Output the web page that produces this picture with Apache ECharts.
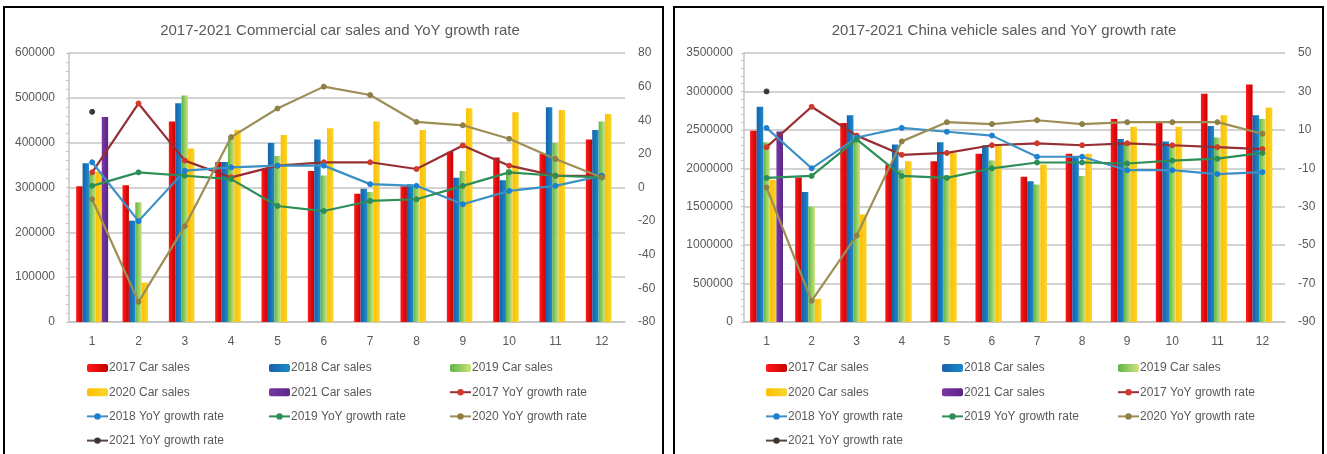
<!DOCTYPE html>
<html><head><meta charset="utf-8">
<script src="https://cdn.jsdelivr.net/npm/echarts@6/dist/echarts.min.js"></script>
<style>html,body{margin:0;padding:0;background:#fff}#c{width:1327px;height:454px}</style>
</head><body><div id="c"></div>
<script>
const months = ['1','2','3','4','5','6','7','8','9','10','11','12'];
const leftTicksSales = [0, 600000, 100000];
const leftTicksYoY = [-80, 80, 20];
const rightTicksSales = [0, 3500000, 500000];
const rightTicksYoY = [-90, 50, 20];

// Commercial car sales
const cv2017 = [303000, 305000, 447000, 357000, 342000, 337000, 286000, 303000, 380000, 367000, 376000, 407000];
const cv2018 = [354000, 226000, 488000, 357000, 399000, 407000, 297000, 307000, 322000, 316000, 479000, 428000];
const cv2019 = [330000, 267000, 505000, 410000, 370000, 327000, 290000, 301000, 337000, 340000, 399000, 447000];
const cv2020 = [335000, 88000, 387000, 428000, 417000, 432000, 447000, 428000, 477000, 468000, 473000, 464000];
const cv2021 = [457000, null, null, null, null, null, null, null, null, null, null, null];
const cvYoY2017 = [9, 50, 16, 6, 13, 15, 15, 11, 25, 13, 7, 7];
const cvYoY2018 = [15, -20, 10, 12, 13, 13, 2, 1, -10, -2, 1, 7];
const cvYoY2019 = [1, 9, 7, 5, -11, -14, -8, -7, 1, 9, 7, 6];
const cvYoY2020 = [-7, -68, -23, 30, 47, 60, 55, 39, 37, 29, 17, 6];
const cvYoY2021 = [45, null, null, null, null, null, null, null, null, null, null, null];

// China vehicle sales
const vs2017 = [2490000, 1880000, 2590000, 2050000, 2090000, 2190000, 1890000, 2190000, 2640000, 2610000, 2970000, 3090000];
const vs2018 = [2800000, 1690000, 2690000, 2310000, 2340000, 2300000, 1830000, 2150000, 2380000, 2350000, 2550000, 2690000];
const vs2019 = [2340000, 1500000, 2420000, 1980000, 1910000, 2100000, 1790000, 1900000, 2320000, 2300000, 2400000, 2640000];
const vs2020 = [1850000, 300000, 1400000, 2090000, 2200000, 2290000, 2050000, 2190000, 2540000, 2540000, 2690000, 2790000];
const vs2021 = [2480000, null, null, null, null, null, null, null, null, null, null, null];
const vsYoY2017 = [1, 22, 7, -3, -2, 2, 3, 2, 3, 2, 1, 0];
const vsYoY2018 = [11, -10, 6, 11, 9, 7, -4, -4, -11, -11, -13, -12];
const vsYoY2019 = [-15, -14, 5, -14, -15, -10, -7, -7, -7.5, -6, -5, -2];
const vsYoY2020 = [-20, -79, -45, 4, 14, 13, 15, 13, 14, 14, 14, 8];
const vsYoY2021 = [30, null, null, null, null, null, null, null, null, null, null, null];

const barNames = ['2017 Car sales','2018 Car sales','2019 Car sales','2020 Car sales','2021 Car sales'];
const lineNames = ['2017 YoY growth rate','2018 YoY growth rate','2019 YoY growth rate','2020 YoY growth rate','2021 YoY growth rate'];

const FONT = '"Liberation Sans", Arial, sans-serif';
const TXT = '#595959';
const GRIDC = '#C4C4C4';

function grad(a, b) {
  return new echarts.graphic.LinearGradient(0, 0, 1, 0, [{offset: 0, color: a}, {offset: 1, color: b}]);
}
const barColors = [
  grad('#FF1A1A', '#C80000'),
  grad('#1560AC', '#1F8AC8'),
  grad('#5DB54A', '#CDE47C'),
  grad('#FFBF00', '#F7D52E'),
  grad('#7A35A8', '#5A2885')
];
const lineStyles = [
  {line: '#962E33', sym: '#D03A2A'},
  {line: '#3D90C4', sym: '#1D7FD0'},
  {line: '#2E8E58', sym: '#2E8E58'},
  {line: '#9C8E55', sym: '#8E7F45'},
  {line: '#574644', sym: '#3E3432'}
];

function makeSeries(gi, bars, lines) {
  const out = [];
  bars.forEach((d, i) => {
    out.push({
      name: barNames[i], type: 'bar', xAxisIndex: gi, yAxisIndex: gi * 2,
      data: d, barGap: '0%', barCategoryGap: gi === 0 ? '31%' : '27%',
      itemStyle: {color: barColors[i]}
    });
  });
  lines.forEach((d, i) => {
    out.push({
      name: lineNames[i], type: 'line', xAxisIndex: gi, yAxisIndex: gi * 2 + 1,
      data: d, symbol: 'circle', symbolSize: 5, showSymbol: true,
      lineStyle: {color: lineStyles[i].line, width: 2.2},
      itemStyle: {color: lineStyles[i].sym, borderColor: lineStyles[i].sym},
      z: 3
    });
  });
  return out;
}

function xAxisCfg(gi) {
  return {
    type: 'category', gridIndex: gi, data: months,
    axisLine: {lineStyle: {color: GRIDC, width: 1.5}},
    axisTick: {show: false},
    axisLabel: {color: TXT, fontFamily: FONT, fontSize: 12, margin: 14}
  };
}
function ySalesCfg(gi, t, margin) {
  return {
    type: 'value', gridIndex: gi, position: 'left', min: t[0], max: t[1], interval: t[2],
    axisLine: {show: true, lineStyle: {color: GRIDC, width: 1.5}},
    axisTick: {show: true, length: 3, lineStyle: {color: GRIDC}},
    minorTick: {show: true, splitNumber: 5, length: 3, lineStyle: {color: GRIDC}},
    splitLine: {show: true, lineStyle: {color: GRIDC, width: 1.5}},
    axisLabel: {color: TXT, fontFamily: FONT, fontSize: 12, margin: margin, formatter: v => String(v)}
  };
}
function yYoYCfg(gi, t) {
  return {
    type: 'value', gridIndex: gi, position: 'right', min: t[0], max: t[1], interval: t[2],
    axisLine: {show: false}, axisTick: {show: false}, splitLine: {show: false},
    axisLabel: {color: TXT, fontFamily: FONT, fontSize: 12, margin: 13, formatter: v => String(v)}
  };
}

const legendCols = [
  [barNames[0], barNames[3], lineNames[1], lineNames[4]],
  [barNames[1], barNames[4], lineNames[2]],
  [barNames[2], lineNames[0], lineNames[3]]
];
function legends(xs) {
  return legendCols.map((names, i) => ({
    orient: 'vertical', left: xs[i], top: 361, bottom: 0, padding: 0, itemGap: 10.2,
    itemWidth: 21, itemHeight: 8, selectedMode: false,
    textStyle: {color: TXT, fontFamily: FONT, fontSize: 12, lineHeight: 14, padding: [0, 0, 0, -4]},
    data: names
  }));
}

const chart = echarts.init(document.getElementById('c'), null, {renderer: 'canvas'});
chart.setOption({
  animation: false,
  backgroundColor: '#fff',
  title: [
    {text: '2017-2021 Commercial car sales and YoY growth rate', left: 335, top: 18, textAlign: 'center',
     textStyle: {color: TXT, fontFamily: FONT, fontSize: 15, fontWeight: 'normal'}},
    {text: '2017-2021 China vehicle sales and YoY growth rate', left: 999, top: 18, textAlign: 'center',
     textStyle: {color: TXT, fontFamily: FONT, fontSize: 15, fontWeight: 'normal'}}
  ],
  grid: [
    {left: 69, right: 702, top: 53, bottom: 132},
    {left: 744, right: 42, top: 53, bottom: 132}
  ],
  xAxis: [xAxisCfg(0), xAxisCfg(1)],
  yAxis: [ySalesCfg(0, leftTicksSales, 14), yYoYCfg(0, leftTicksYoY), ySalesCfg(1, rightTicksSales, 11), yYoYCfg(1, rightTicksYoY)],
  legend: legends([86, 268, 449]).concat(legends([765, 941, 1117])),
  series: makeSeries(0, [cv2017, cv2018, cv2019, cv2020, cv2021], [cvYoY2017, cvYoY2018, cvYoY2019, cvYoY2020, cvYoY2021])
    .concat(makeSeries(1, [vs2017, vs2018, vs2019, vs2020, vs2021], [vsYoY2017, vsYoY2018, vsYoY2019, vsYoY2020, vsYoY2021])),
  graphic: [
    {type: 'rect', shape: {x: 4, y: 7, width: 659, height: 460}, style: {fill: 'none', stroke: '#000', lineWidth: 2}, silent: true},
    {type: 'rect', shape: {x: 674, y: 7, width: 649, height: 460}, style: {fill: 'none', stroke: '#000', lineWidth: 2}, silent: true}
  ]
});
</script></body></html>
